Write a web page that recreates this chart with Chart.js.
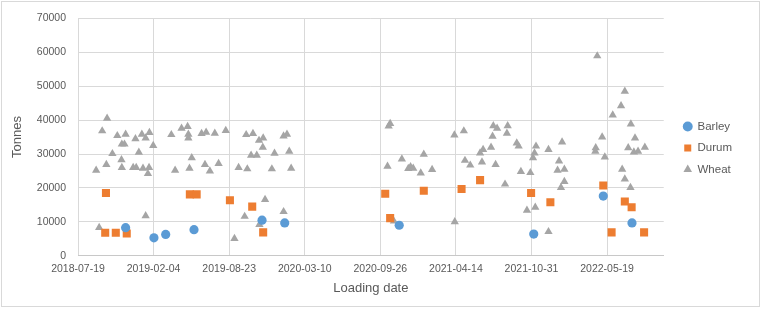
<!DOCTYPE html>
<html>
<head>
<meta charset="utf-8">
<script src="https://cdn.jsdelivr.net/npm/chart.js@4.4.1/dist/chart.umd.min.js"></script>
<style>
  html, body { margin: 0; padding: 0; background: #fff; }
  #wrap { position: relative; width: 762px; height: 309px; }
  #frame { position: absolute; left: 1px; top: 1px; width: 759px; height: 306px; border: 1px solid #d9d9d9; box-sizing: border-box; pointer-events: none; }
</style>
</head>
<body>
<div id="wrap">
  <canvas id="chart" width="762" height="309"></canvas>
  <div id="frame"></div>
</div>
<script>
// x values are days after 2018-07-19 (first axis tick)
const xTickLabels = ["2018-07-19", "2019-02-04", "2019-08-23", "2020-03-10", "2020-09-26", "2021-04-14", "2021-10-31", "2022-05-19"];

const barleyDays   = [126, 201, 232, 307, 487, 547, 850, 1206, 1390, 1466];
const barleyTonnes = [8300, 5300, 6300, 7700, 10500, 9700, 9000, 6400, 17600, 9700];

const durumDays   = [74, 72, 100, 129, 296, 314, 402, 461, 490, 813, 826, 915, 1015, 1064, 1199, 1250, 1390, 1412, 1447, 1465, 1498];
const durumTonnes = [18500, 6800, 6800, 6600, 18100, 18100, 16400, 14500, 6900, 18300, 11100, 19200, 19700, 22300, 18500, 15800, 20700, 6900, 16000, 14300, 6900];

const wheatDays = [
  77, 64, 104, 126, 116, 123, 152, 169, 179, 189, 199, 247, 91, 161, 115, 48, 75, 116, 146, 154, 172, 188, 185, 257, 179, 56,
  274, 290, 292, 292, 327, 339, 362, 391, 445, 463, 479, 490, 489, 458, 473, 520, 301, 295, 336, 349, 372, 425, 448, 513, 495, 441, 480, 414,
  553, 544, 559, 564, 544, 826, 822, 819, 857, 836,
  874, 880, 887, 915, 907, 937, 996, 1021, 1024, 1038, 1069, 1064, 1072, 1093, 1097, 1099, 1109, 1105, 997,
  1137, 1135, 1161, 1166, 1212, 1208, 1204, 1245, 1281, 1172, 1197, 1273, 1269, 1287, 1287, 1278, 1130, 1188, 1210, 1245,
  1374, 1447, 1437, 1415, 1463, 1387, 1474, 1370, 1369, 1394, 1456, 1471, 1482, 1500, 1440, 1447, 1462
];
const wheatTonnes = [
  40500, 36800, 35400, 35800, 32900, 32900, 34500, 35800, 34700, 36300, 32500, 35700, 30100, 30500, 28300, 25200, 26900, 26000, 26000, 26000, 25800, 26000, 24200, 25200, 11800, 8300,
  37600, 38100, 35800, 34700, 36000, 36400, 36100, 36900, 35700, 36000, 34000, 34700, 32000, 29600, 29600, 30200, 28900, 25800, 26900, 25000, 27200, 26000, 25600, 25600, 16600, 11600, 9200, 5100,
  35800, 35300, 30800, 25800, 13000, 39000, 38200, 26400, 28500, 10200,
  25700, 26200, 25800, 29900, 24400, 25400, 35600, 36800, 28100, 26700, 27600, 30300, 31300, 32000, 35200, 38300, 37600, 26900, 10000,
  38300, 36100, 33200, 32300, 32300, 30300, 28900, 31300, 33500, 24800, 24500, 27900, 25200, 25500, 21900, 20100, 21100, 13400, 14300, 7100,
  58900, 48500, 44200, 41500, 38800, 35000, 34700, 31800, 30800, 29100, 31800, 30600, 30800, 32000, 25500, 22600, 20100
];

const toPoints = (xs, ys) => xs.map((x, i) => ({ x: x, y: ys[i] }));

const textColor = "#595959";
const gridColor = "#d9d9d9";
const font = "'Liberation Sans', Arial, sans-serif";

// Excel puts the legend a little away from the plot and lower than centre
const legendNudge = {
  id: "legendNudge",
  afterLayout(chart) {
    const lg = chart.legend;
    lg.left += 10; lg.right += 10;
    lg.top += 11; lg.bottom += 11;
  }
};

new Chart(document.getElementById("chart"), {
  type: "scatter",
  data: {
    datasets: [
      { label: "Barley", data: toPoints(barleyDays, barleyTonnes), pointStyle: "circle", pointRadius: 4.6,
        backgroundColor: "#5b9bd5", borderColor: "#5b9bd5", borderWidth: 0 },
      { label: "Durum", data: toPoints(durumDays, durumTonnes), pointStyle: "rect", pointRadius: 5.7,
        backgroundColor: "#ed7d31", borderColor: "#ed7d31", borderWidth: 0 },
      { label: "Wheat", data: toPoints(wheatDays, wheatTonnes), pointStyle: "triangle", pointRadius: 4.8,
        backgroundColor: "#a5a5a5", borderColor: "#a5a5a5", borderWidth: 0 }
    ]
  },
  options: {
    responsive: false,
    animation: false,
    layout: { padding: { left: 6, right: 30, top: 13, bottom: 13 } },
    plugins: {
      tooltip: { enabled: false },
      legend: {
        position: "right",
        fullSize: false,
        labels: {
          usePointStyle: true, boxWidth: 8, boxHeight: 7, padding: 10,
          color: textColor, font: { family: font, size: 11.5 }
        }
      }
    },
    scales: {
      x: {
        type: "linear", min: 0, max: 1550,
        afterBuildTicks: axis => { axis.ticks = axis.ticks.filter(t => t.value % 200 === 0 && t.value <= 1400); },
        ticks: { stepSize: 200, padding: 7, color: textColor, maxRotation: 0, font: { family: font, size: 10.5 },
          callback: v => xTickLabels[v / 200] ?? "" },
        grid: { color: gridColor, drawTicks: false },
        border: { color: "#c8c8c8" },
        title: { display: true, text: "Loading date", color: textColor, font: { family: font, size: 13 }, padding: { top: -2, bottom: 0 } }
      },
      y: {
        min: 0, max: 70000,
        afterFit: axis => { axis.width = 72; },
        ticks: { stepSize: 10000, padding: 12, color: textColor, font: { family: font, size: 10.5 }, callback: v => String(v) },
        grid: { color: gridColor, drawTicks: false },
        border: { display: false },
        title: { display: true, text: "Tonnes", color: textColor, font: { family: font, size: 13 }, padding: { top: 4, bottom: 4 } }
      }
    }
  },
  plugins: [legendNudge]
});
</script>
</body>
</html>
